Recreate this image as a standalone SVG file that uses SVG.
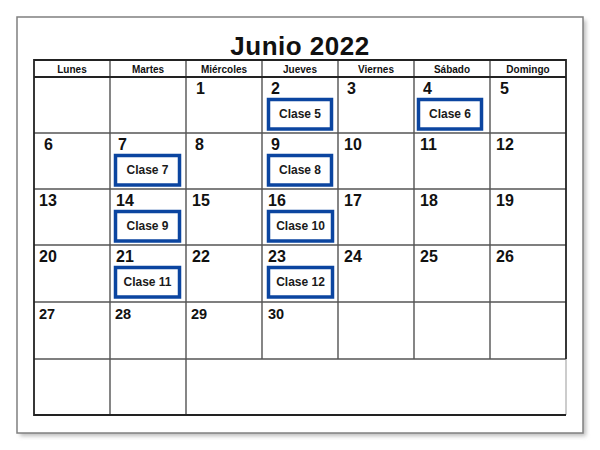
<svg xmlns="http://www.w3.org/2000/svg" width="600" height="450" viewBox="0 0 600 450">
<defs>
<filter id="sh" x="-5%" y="-5%" width="110%" height="110%"><feGaussianBlur stdDeviation="2"/></filter>
</defs>
<style>
.hd{font-family:"Liberation Sans",Arial,sans-serif;font-weight:bold;font-size:10px;fill:#111;text-anchor:middle}
.num{font-family:"Liberation Sans",Arial,sans-serif;font-weight:bold;font-size:16px;fill:#111}
.num2{font-family:"Liberation Sans",Arial,sans-serif;font-weight:bold;font-size:14.5px;fill:#111}
.box{fill:#fff;stroke:#0b45a0;stroke-width:3.5}
.cl{font-family:"Liberation Sans",Arial,sans-serif;font-weight:bold;font-size:12px;fill:#1a1a1a;text-anchor:middle}
.v{stroke:#444;stroke-width:1.3}
.h{stroke:#555;stroke-width:1.6}
</style>
<rect width="600" height="450" fill="#fff"/>
<g id="frame">
<rect x="20" y="20" width="566" height="416" fill="#bbb" filter="url(#sh)"/>
<rect x="17" y="17" width="566" height="416" fill="#fff" stroke="#808080" stroke-width="1.5"/>
</g>
<g id="title">
<text x="300" y="55" font-family="Liberation Sans,Arial,sans-serif" font-weight="bold" font-size="26" fill="#111" text-anchor="middle" letter-spacing="0.5">Junio 2022</text>
</g>
<g id="grid">
<g class="v">
<line x1="110" y1="60" x2="110" y2="415"/>
<line x1="186" y1="60" x2="186" y2="415"/>
<line x1="262" y1="60" x2="262" y2="359"/>
<line x1="338" y1="60" x2="338" y2="359"/>
<line x1="414" y1="60" x2="414" y2="359"/>
<line x1="490" y1="60" x2="490" y2="359"/>
</g>
<g class="h">
<line x1="34" y1="133" x2="566" y2="133"/>
<line x1="34" y1="189" x2="566" y2="189"/>
<line x1="34" y1="245" x2="566" y2="245"/>
<line x1="34" y1="302" x2="566" y2="302"/>
<line x1="34" y1="359" x2="566" y2="359"/>
</g>
<line x1="34" y1="77" x2="566" y2="77" stroke="#222" stroke-width="1.8"/>
<line x1="566" y1="359" x2="566" y2="415" stroke="#999" stroke-width="1"/>
<path d="M566 359 V60 H34 V415 H566" fill="none" stroke="#222" stroke-width="1.8"/>
</g>
<g id="header">
<text class="hd" x="72" y="73">Lunes</text>
<text class="hd" x="148" y="73">Martes</text>
<text class="hd" x="224" y="73">Miércoles</text>
<text class="hd" x="300" y="73">Jueves</text>
<text class="hd" x="376" y="73">Viernes</text>
<text class="hd" x="452" y="73">Sábado</text>
<text class="hd" x="528" y="73">Domingo</text>
</g>
<g id="days">
<text class="num" x="196" y="94">1</text>
<text class="num" x="271" y="94">2</text>
<text class="num" x="347" y="94">3</text>
<text class="num" x="423" y="94">4</text>
<text class="num" x="500" y="94">5</text>
<text class="num" x="44" y="150">6</text>
<text class="num" x="118" y="150">7</text>
<text class="num" x="195" y="150">8</text>
<text class="num" x="271" y="150">9</text>
<text class="num" x="344" y="150">10</text>
<text class="num" x="420" y="150">11</text>
<text class="num" x="496" y="150">12</text>
<text class="num" x="39" y="206">13</text>
<text class="num" x="116" y="206">14</text>
<text class="num" x="192" y="206">15</text>
<text class="num" x="268" y="206">16</text>
<text class="num" x="344" y="206">17</text>
<text class="num" x="420" y="206">18</text>
<text class="num" x="496" y="206">19</text>
<text class="num" x="39" y="262">20</text>
<text class="num" x="116" y="262">21</text>
<text class="num" x="192" y="262">22</text>
<text class="num" x="268" y="262">23</text>
<text class="num" x="344" y="262">24</text>
<text class="num" x="420" y="262">25</text>
<text class="num" x="496" y="262">26</text>
<text class="num2" x="39" y="319">27</text>
<text class="num2" x="115" y="319">28</text>
<text class="num2" x="191" y="319">29</text>
<text class="num2" x="268" y="319">30</text>
</g>
<g id="clase5"><rect class="box" x="268.5" y="99.5" width="63" height="29.5"/><text class="cl" x="300" y="117.5">Clase 5</text></g>
<g id="clase6"><rect class="box" x="418.5" y="99.5" width="63" height="29.5"/><text class="cl" x="450" y="117.5">Clase 6</text></g>
<g id="clase7"><rect class="box" x="115.5" y="155.5" width="64" height="29.5"/><text class="cl" x="147.5" y="173.5">Clase 7</text></g>
<g id="clase8"><rect class="box" x="268.5" y="155.5" width="63" height="29.5"/><text class="cl" x="300" y="173.5">Clase 8</text></g>
<g id="clase9"><rect class="box" x="115.5" y="211.5" width="64" height="29.5"/><text class="cl" x="147.5" y="229.5">Clase 9</text></g>
<g id="clase10"><rect class="box" x="268.5" y="211.5" width="64" height="29.5"/><text class="cl" x="300.5" y="229.5">Clase 10</text></g>
<g id="clase11"><rect class="box" x="115.5" y="267.5" width="64" height="29.5"/><text class="cl" x="147.5" y="285.5">Clase 11</text></g>
<g id="clase12"><rect class="box" x="268.5" y="267.5" width="64" height="29.5"/><text class="cl" x="300.5" y="285.5">Clase 12</text></g>
</svg>
